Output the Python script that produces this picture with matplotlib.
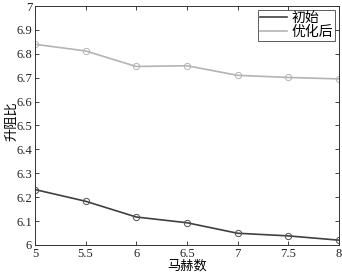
import matplotlib
matplotlib.use("Agg")
import matplotlib.pyplot as plt

plt.rcParams['font.family'] = ['Liberation Serif', 'Noto Sans CJK SC']

mach = [5, 5.5, 6, 6.5, 7, 7.5, 8]
initial = [6.232, 6.183, 6.117, 6.093, 6.049, 6.038, 6.020]
optimized = [6.840, 6.812, 6.747, 6.750, 6.710, 6.701, 6.695]

fig = plt.figure(figsize=(3.42, 2.74), dpi=100)
ax = fig.add_axes([0.102, 0.106, 0.889, 0.872])

ax.plot(mach, initial, color='#404040', lw=1.2, marker='o', ms=4.5,
        mfc='none', mec='#505050', mew=0.7, label='初始')
ax.plot(mach, optimized, color='#b4b4b4', lw=1.2, marker='o', ms=4.5,
        mfc='none', mec='#b4b4b4', mew=0.7, label='优化后')

ax.set_xlim(5, 8)
ax.set_ylim(6, 7)
ax.set_xticks([5, 5.5, 6, 6.5, 7, 7.5, 8])
ax.set_xticklabels(['5', '5.5', '6', '6.5', '7', '7.5', '8'])
ax.set_yticks([6, 6.1, 6.2, 6.3, 6.4, 6.5, 6.6, 6.7, 6.8, 6.9, 7])
ax.set_yticklabels(['6', '6.1', '6.2', '6.3', '6.4', '6.5', '6.6', '6.7', '6.8', '6.9', '7'])
ax.tick_params(direction='in', top=True, right=True, labelsize=9, length=3,
               width=0.6, pad=2, colors='#222222')
for s in ax.spines.values():
    s.set_linewidth(0.7)
    s.set_color('#333333')

ax.set_xlabel('马赫数', fontsize=9.5, labelpad=0)
ax.set_ylabel('升阻比', fontsize=9.5)
ax.yaxis.set_label_coords(-0.056, 0.52)

leg = ax.legend(loc='upper right', fontsize=10, fancybox=False, edgecolor='#333333',
                handlelength=1.9, borderpad=0.15, labelspacing=0.0,
                handletextpad=0.3, borderaxespad=0.3)
leg.get_frame().set_linewidth(0.7)
for h in leg.legend_handles:
    h.set_marker('')

fig.savefig('out.png', dpi=100)
